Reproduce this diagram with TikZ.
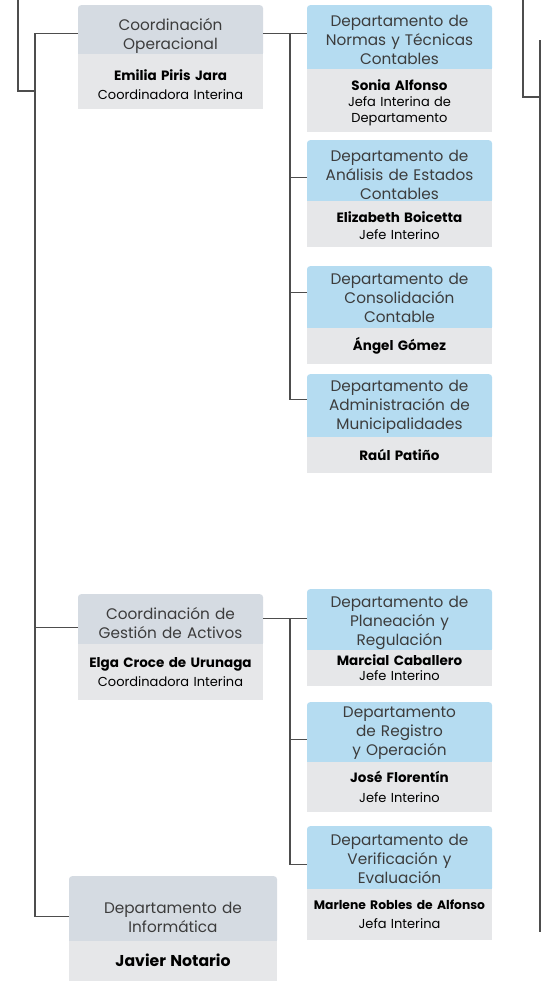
\documentclass[tikz,border=0pt]{standalone}
\usepackage{fontspec}
\setmainfont{Poppins}
\definecolor{grisT}{HTML}{D5DBE2}
\definecolor{grisC}{HTML}{E6E7E9}
\definecolor{azul}{HTML}{B5DCF1}
\definecolor{linea}{HTML}{4D4D4D}
\definecolor{texto}{HTML}{3C3C3C}
\tikzset{
  titulo/.style={anchor=north, minimum width=185pt, text width=183pt,
    align=center, inner sep=0pt, rounded corners=3pt, text=texto,
    font=\fontsize{15.3}{19}\selectfont},
  tgris/.style={titulo, fill=grisT},
  tazul/.style={titulo, fill=azul},
  cuerpo/.style={anchor=north, minimum width=185pt, text width=183pt,
    align=center, inner sep=0pt, fill=grisC, text=black,
    font=\fontsize{13}{16}\selectfont},
  conector/.style={draw=linea, line width=1.3pt}
}
\newcommand{\nom}[1]{{\fontsize{13.5}{16}\selectfont\bfseries #1}}
\newcommand{\tope}[1]{\rule{0pt}{#1}}
\begin{document}
\begin{tikzpicture}[x=1pt,y=-1pt]
        \useasboundingbox (0,0) rectangle (541,989);

        % Paso 1: Coordinación Operacional
        \node[tgris, minimum height=51pt] (co) at (170.5,5) {\tope{23pt}Coordinación\\Operacional};
        \node[cuerpo, minimum height=55pt] (co-b) at ([yshift=3pt]co.south)
             {\tope{17pt}\nom{Emilia Piris Jara}\\[3pt]Coordinadora Interina};

        % Paso 2: Departamentos de la Coordinación Operacional
        \node[tazul, minimum height=66pt] (d1) at (399.5,5) {\tope{15.3pt}Departamento de\\Normas y Técnicas\\Contables};
        \node[cuerpo, minimum height=63pt] (d1-b) at ([yshift=3pt]d1.south)
             {\tope{16pt}\nom{Sonia Alfonso}\\Jefa Interina de\\Departamento};

        \node[tazul, minimum height=63pt] (d2) at (399.5,140) {\tope{17.3pt}Departamento de\\Análisis de Estados\\Contables};
        \node[cuerpo, minimum height=46pt] (d2-b) at ([yshift=3pt]d2.south)
             {\tope{14pt}\nom{Elizabeth Boicetta}\\[1pt]Jefe Interino};

        \node[tazul, minimum height=64pt] (d3) at (399.5,266) {Departamento de\\Consolidación\\Contable};
        \node[cuerpo, minimum height=36pt] (d3-b) at ([yshift=3pt]d3.south)
             {\nom{Ángel Gómez}};

        \node[tazul, minimum height=65pt] (d4) at (399.5,374) {Departamento de\\Administración de\\Municipalidades};
        \node[cuerpo, minimum height=36pt] (d4-b) at ([yshift=3pt]d4.south)
             {\nom{Raúl Patiño}};

        % Paso 3: Coordinación de Gestión de Activos
        \node[tgris, minimum height=52pt] (cg) at (170.5,594) {\tope{18pt}Coordinación de\\Gestión de Activos};
        \node[cuerpo, minimum height=56pt] (cg-b) at ([yshift=3pt]cg.south)
             {\nom{Elga Croce de Urunaga}\\[3pt]Coordinadora Interina};

        % Paso 4: Departamentos de la Coordinación de Gestión de Activos
        \node[tazul, minimum height=63pt] (d5) at (399.5,589) {\tope{15.3pt}Departamento de\\Planeación y\\Regulación};
        \node[cuerpo, minimum height=36pt] (d5-b) at ([yshift=3pt]d5.south)
             {\nom{Marcial Caballero}\\[-1pt]Jefe Interino};

        \node[tazul, minimum height=62pt] (d6) at (399.5,702) {Departamento\\de Registro\\y Operación};
        \node[cuerpo, minimum height=50pt] (d6-b) at ([yshift=3pt]d6.south)
             {\nom{José Florentín}\\[4pt]Jefe Interino};

        \node[tazul, minimum height=65pt] (d7) at (399.5,826) {Departamento de\\Verificación y\\Evaluación};
        \node[cuerpo, minimum height=51pt] (d7-b) at ([yshift=3pt]d7.south)
             {{\fontsize{12.3}{16}\selectfont\bfseries Marlene Robles de Alfonso}\\[3pt]Jefa Interina};

        % Paso 5: Departamento de Informática
        \node[tgris, minimum width=208pt, minimum height=67pt] (inf) at (173,876) {\tope{27pt}Departamento de\\Informática};
        \node[cuerpo, minimum width=208pt, minimum height=40pt] (inf-b) at ([yshift=3pt]inf.south)
             {{\fontsize{15.7}{16}\selectfont\bfseries Javier Notario}};

        % Paso 6: Puntos de enlace de cada caja
        \coordinate (tronco) at (35,0);
        \coordinate (rama) at (290,0);
        \coordinate (co-i) at ([yshift=-2.5pt]co.west);
        \coordinate (co-d) at ([yshift=-2.5pt]co.east);
        \coordinate (cg-i) at ([yshift=-7pt]cg.west);
        \coordinate (cg-d) at ([yshift=2pt]cg.east);
        \coordinate (inf-i) at ([yshift=-6.5pt]inf.west);
        \coordinate (d1-i) at ([yshift=5pt]d1.west);
        \coordinate (d2-i) at ([yshift=-5.5pt]d2.west);
        \coordinate (d3-i) at ([yshift=6pt]d3.west);
        \coordinate (d4-i) at ([yshift=7.5pt]d4.west);
        \coordinate (d5-i) at ([yshift=2.5pt]d5.west);
        \coordinate (d6-i) at ([yshift=-6pt]d6.west);
        \coordinate (d7-i) at ([yshift=-5.5pt]d7.west);

        % Paso 7: Extremos de las líneas que siguen fuera del recorte
        \coordinate (e1) at (18,0);
        \coordinate (u1) at (35,91);
        \coordinate (e2) at (523,0);
        \coordinate (u2) at (540,97);
        \coordinate (s2) at (540,40);
        \coordinate (f2) at (540,932);

        % Paso 8: Tronco izquierdo hacia las coordinaciones
        \draw[conector] (co-i) -| (inf-i -| tronco) -- (inf-i);
        \draw[conector] (cg-i -| tronco) -- (cg-i);
        \draw[conector] (e1) |- (u1);

        % Paso 9: Ramas de cada coordinación hacia sus departamentos
        \draw[conector] (co-d) -| (d4-i -| rama) -- (d4-i);
        \draw[conector] (d1-i -| rama) -- (d1-i);
        \draw[conector] (d2-i -| rama) -- (d2-i);
        \draw[conector] (d3-i -| rama) -- (d3-i);
        \draw[conector] (cg-d) -| (d7-i -| rama) -- (d7-i);
        \draw[conector] (d5-i -| rama) -- (d5-i);
        \draw[conector] (d6-i -| rama) -- (d6-i);

        % Paso 10: Líneas del borde derecho
        \draw[conector] (e2) |- (u2);
        \draw[conector] (s2) -- (f2);
\end{tikzpicture}
\end{document}
